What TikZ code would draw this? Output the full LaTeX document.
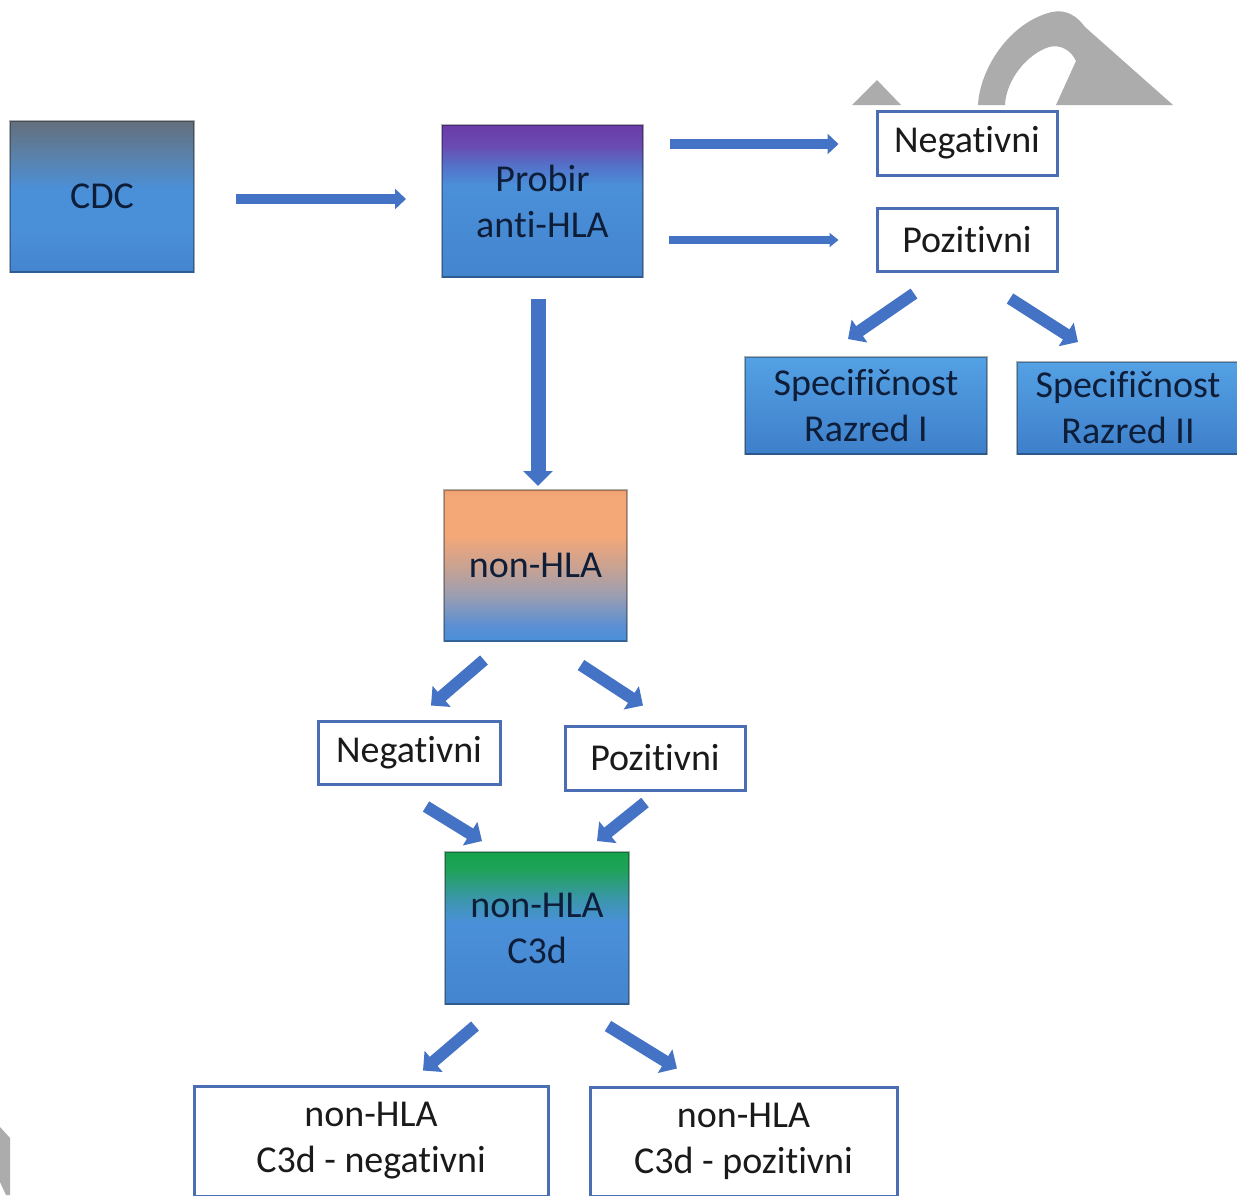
\documentclass[tikz,border=0pt]{standalone}
\usepackage{fontspec}
\setmainfont{Carlito}[Ligatures=NoCommon]
\usetikzlibrary{arrows.meta}

% colours
\definecolor{arrowblue}{HTML}{4472C4}
\definecolor{framblue}{HTML}{4A6DB3}
\definecolor{navytext}{HTML}{0E1D38}
\definecolor{marktext}{HTML}{1A1A1A}
\definecolor{wmgray}{HTML}{ACACAC}
\definecolor{blueA}{HTML}{4A90D9}
\definecolor{blueB}{HTML}{4485CF}
\definecolor{cdcT}{HTML}{636F7C}
\definecolor{cdcM}{HTML}{5A82AC}
\definecolor{prT}{HTML}{6A3BA8}
\definecolor{prM}{HTML}{6A4BB2}
\definecolor{prN}{HTML}{5470C8}
\definecolor{orT}{HTML}{EEA070}
\definecolor{orA}{HTML}{F4A878}
\definecolor{orM}{HTML}{CBA290}
\definecolor{orN}{HTML}{9A9EB2}
\definecolor{orL}{HTML}{5A8FD3}
\definecolor{grT}{HTML}{16A34C}
\definecolor{grA}{HTML}{1FA25A}
\definecolor{grM}{HTML}{3A97A8}
\definecolor{spT}{HTML}{54A1E4}
\definecolor{spB}{HTML}{3E7FCA}

% vertical shadings: the node spans 25bp (bottom) to 75bp (top)
\pgfdeclareverticalshading{cdcshade}{100bp}{color(0bp)=(blueB); color(25bp)=(blueB);
  color(40bp)=(blueA); color(52bp)=(blueA); color(63bp)=(cdcM); color(75bp)=(cdcT); color(100bp)=(cdcT)}
\pgfdeclareverticalshading{probirshade}{100bp}{color(0bp)=(blueB); color(25bp)=(blueB);
  color(55bp)=(blueA); color(62bp)=(prN); color(68bp)=(prM); color(75bp)=(prT); color(100bp)=(prT)}
\pgfdeclareverticalshading{orangeshade}{100bp}{color(0bp)=(blueA); color(25bp)=(blueA);
  color(30bp)=(orL); color(40bp)=(orN); color(50bp)=(orM); color(60bp)=(orA); color(73bp)=(orA); color(75bp)=(orT); color(100bp)=(orT)}
\pgfdeclareverticalshading{greenshade}{100bp}{color(0bp)=(blueB); color(25bp)=(blueB);
  color(52bp)=(blueA); color(60bp)=(grM); color(69bp)=(grA); color(75bp)=(grT); color(100bp)=(grT)}
\pgfdeclareverticalshading{specshade}{100bp}{color(0bp)=(spB); color(25bp)=(spB);
  color(75bp)=(spT); color(100bp)=(spT)}

\newcommand\boxfont{\fontsize{38}{46}\selectfont}

\tikzset{
  gbox/.style={shade, rectangle, inner sep=0pt, align=center, font=\boxfont,
    text=navytext, draw=black, draw opacity=0.3, line width=2pt},
  wbox/.style={rectangle, inner sep=0pt, align=center, font=\boxfont,
    text=marktext, fill=white, draw=framblue, line width=3pt},
  arr/.style={draw=arrowblue, line width=12pt, -{Triangle[length=14pt,width=27pt]}},
  arrh/.style={draw=arrowblue, line width=10pt, -{Triangle[length=11pt,width=20pt]}},
  arrs/.style={draw=arrowblue, line width=8pt, -{Triangle[length=9pt,width=14pt]}},
  arrv/.style={draw=arrowblue, line width=15pt, -{Triangle[length=15pt,width=29pt]}},
  wmshape/.style={fill=wmgray, draw=none}
}

\begin{document}
\begin{tikzpicture}[x=1pt, y=-1pt]
\useasboundingbox (0,0) rectangle (1237,1195);
\fill[white] (0,0) rectangle (1237,1195);

% grey watermark fragments
\fill[wmshape] (852,105) -- (857,100) -- (877,80) -- (901,105) -- cycle;
\fill[wmshape] (978,105) .. controls (980,68) and (1010,22) .. (1052,12)
  .. controls (1066,9) and (1077,16) .. (1085,27) -- (1173,105) -- (1056,105)
  -- (1076,61) .. controls (1071,50) and (1060,44) .. (1049,47)
  .. controls (1027,54) and (1006,80) .. (1005,105) -- cycle;
\fill[wmshape] (0,1127) -- (10,1138) -- (10,1195) -- (6,1195) -- (0,1182) -- cycle;

% boxes
\node[gbox, shading=cdcshade, minimum width=184pt, minimum height=151pt] (cdc) at (102,196.5) {CDC};
\node[gbox, shading=probirshade, minimum width=201pt, minimum height=152pt] (probir) at (542.5,201) {Probir\\anti-HLA};
\node[wbox, minimum width=180pt, minimum height=64pt] (neg1) at (967,143) {Negativni};
\node[wbox, minimum width=180pt, minimum height=63pt] (poz1) at (967,239.5) {Pozitivni};
\node[gbox, shading=specshade, minimum width=242pt, minimum height=97pt] (spec1) at (866,405.5) {Specifičnost\\Razred I};
\node[gbox, shading=specshade, minimum width=222pt, minimum height=92pt] (spec2) at (1128,408) {Specifičnost\\Razred II};
\node[gbox, shading=orangeshade, minimum width=183pt, minimum height=151pt] (nonhla) at (535.5,565.5) {non-HLA};
\node[wbox, minimum width=182pt, minimum height=63pt] (neg2) at (409,752.5) {Negativni};
\node[wbox, minimum width=180pt, minimum height=64pt] (poz2) at (655,758) {Pozitivni};
\node[gbox, shading=greenshade, minimum width=184pt, minimum height=152pt] (c3d) at (537,928) {non-HLA\\C3d};
\node[wbox, minimum width=354pt, minimum height=110pt] (res1) at (371,1141) {non-HLA\\C3d - negativni};
\node[wbox, minimum width=307pt, minimum height=109pt] (res2) at (743.5,1141.5) {non-HLA\\C3d - pozitivni};

% connectors
\draw[arrh] ([shift={(41,2.5)}]cdc.east) -- ([shift={(-35,-2)}]probir.west);
\draw[arrh] ([shift={(26,-57)}]probir.east) -- ([shift={(-37,1)}]neg1.west);
\draw[arrs] ([shift={(25,39)}]probir.east) -- ([shift={(-37,0.5)}]poz1.west);
\draw[arr] ([shift={(-53,21)}]poz1.south) -- ([shift={(-18,-17)}]spec1.north);
\draw[arr] ([shift={(43,26)}]poz1.south) -- ([shift={(-50,-19)}]spec2.north);
\draw[arrv] ([shift={(-4.5,21)}]probir.south) -- ([shift={(2.5,-3)}]nonhla.north);
\draw[arr] ([shift={(-51.5,18)}]nonhla.south) -- ([shift={(22,-14)}]neg2.north);
\draw[arr] ([shift={(45.5,23)}]nonhla.south) -- ([shift={(-12,-19)}]poz2.north);
\draw[arr] ([shift={(17,21)}]neg2.south) -- ([shift={(-55,-10)}]c3d.north);
\draw[arr] ([shift={(-10,11)}]poz2.south) -- ([shift={(60,-10)}]c3d.north);
\draw[arr] ([shift={(-62,21)}]c3d.south) -- ([shift={(52,-14)}]res1.north);
\draw[arr] ([shift={(71,21)}]c3d.south) -- ([shift={(-66.5,-17)}]res2.north);
\end{tikzpicture}
\end{document}
